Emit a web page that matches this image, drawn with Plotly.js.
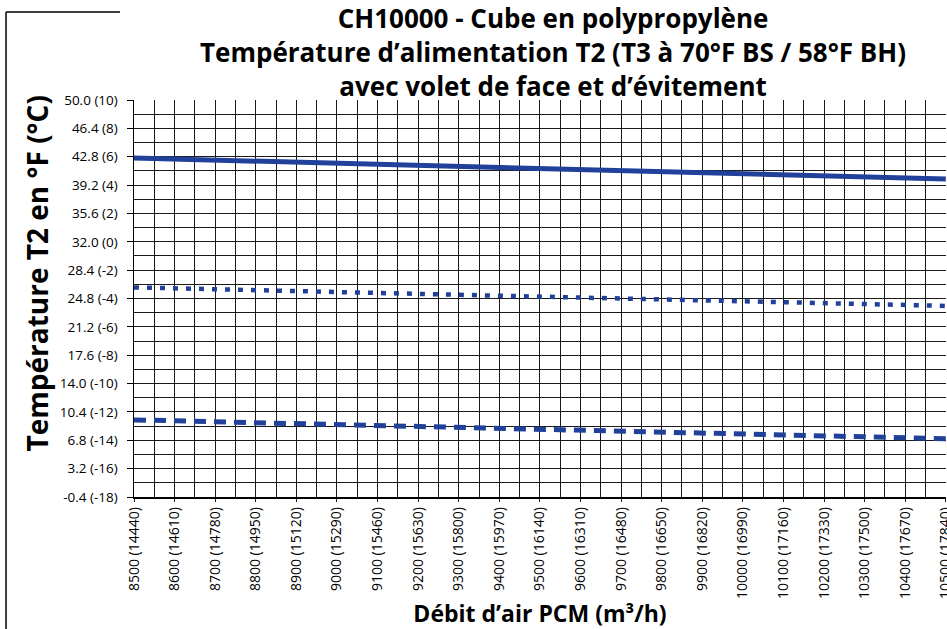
<!DOCTYPE html>
<html>
<head>
<meta charset="utf-8">
<script src="https://cdn.plot.ly/plotly-3.0.1.min.js"></script>
<style>html,body{margin:0;padding:0;background:#fff;}#chart{width:947px;height:629px;}</style>
</head>
<body>
<div id="chart"></div>
<script>
// Airflow (CFM) and matching m³/h labels
const airflowCFM = [8500, 8600, 8700, 8800, 8900, 9000, 9100, 9200, 9300, 9400, 9500,
                    9600, 9700, 9800, 9900, 10000, 10100, 10200, 10300, 10400, 10500];
const airflowM3h = [14440, 14610, 14780, 14950, 15120, 15290, 15460, 15630, 15800, 15970, 16140,
                    16310, 16480, 16650, 16820, 16990, 17160, 17330, 17500, 17670, 17840];

// T2 temperatures (°F)
const seriesSolid  = [42.64, 42.51, 42.37, 42.24, 42.11, 41.97, 41.84, 41.71, 41.57, 41.44, 41.31,
                      41.17, 41.04, 40.90, 40.77, 40.64, 40.50, 40.37, 40.24, 40.10, 39.97];
const seriesDotted = [26.21, 26.09, 25.98, 25.86, 25.74, 25.62, 25.50, 25.39, 25.27, 25.15, 25.04,
                      24.92, 24.80, 24.68, 24.56, 24.45, 24.33, 24.21, 24.09, 23.98, 23.86];
const seriesDashed = [9.39, 9.27, 9.15, 9.03, 8.91, 8.79, 8.67, 8.55, 8.43, 8.31, 8.20,
                      8.08, 7.96, 7.84, 7.72, 7.60, 7.48, 7.36, 7.24, 7.12, 7.00];

// Y tick values (°F) and labels (°F (°C))
const yTickF = [-0.4, 3.2, 6.8, 10.4, 14.0, 17.6, 21.2, 24.8, 28.4, 32.0, 35.6, 39.2, 42.8, 46.4, 50.0];
const yTickC = [-18, -16, -14, -12, -10, -8, -6, -4, -2, 0, 2, 4, 6, 8, 10];

const xTickText = airflowCFM.map((v, i) => v + ' (' + airflowM3h[i] + ')');
const yTickText = yTickF.map((v, i) => v.toFixed(1) + ' (' + yTickC[i] + ')');

const blue = '#21409a';

const traces = [
  {x: airflowCFM, y: seriesSolid, mode: 'lines', line: {color: blue, width: 5}, showlegend: false, hoverinfo: 'skip'},
  {x: airflowCFM, y: seriesDotted, mode: 'lines', line: {color: blue, width: 4.5, dash: '5px,8px'}, showlegend: false, hoverinfo: 'skip'},
  {x: airflowCFM, y: seriesDashed, mode: 'lines', line: {color: blue, width: 5, dash: '12px,8px'}, showlegend: false, hoverinfo: 'skip'}
];

const gridC = '#1a1a1a';

const layout = {
  width: 947, height: 629,
  margin: {l: 134, r: 1, t: 100, b: 132, pad: 0},
  paper_bgcolor: '#ffffff', plot_bgcolor: '#ffffff',
  font: {family: '"Open Sans", sans-serif', color: '#000'},
  showlegend: false,
  title: {
    text: '<b>CH10000 - Cube en polypropylène<br>Température d’alimentation T2 (T3 à 70°F BS / 58°F BH)<br>avec volet de face et d’évitement</b>',
    font: {family: '"Open Sans", sans-serif', size: 26, color: '#000'},
    x: 0.584, xanchor: 'center', xref: 'container',
    y: 0.955, yanchor: 'middle', yref: 'container'
  },
  xaxis: {
    range: [8500, 10500.5],
    tickmode: 'array', tickvals: airflowCFM, ticktext: xTickText,
    tickangle: -90, tickfont: {size: 14, color: '#000'},
    ticklabeloverflow: 'allow',
    ticks: 'outside', ticklen: 3, tickcolor: gridC,
    showgrid: true, gridcolor: gridC, gridwidth: 1,
    minor: {tickmode: 'linear', tick0: 8500, dtick: 50, showgrid: true, gridcolor: gridC, gridwidth: 1, ticks: ''},
    showline: true, linecolor: '#000', linewidth: 1.5,
    zeroline: false, fixedrange: true,
    title: {text: '<b>Débit d’air PCM (m³/h)</b>', font: {size: 23, color: '#000'}, standoff: 10}
  },
  yaxis: {
    range: [-0.4, 50.0],
    tickmode: 'array', tickvals: yTickF, ticktext: yTickText,
    tickfont: {size: 13.5, color: '#000'},
    ticks: 'outside', ticklen: 6, tickcolor: '#000',
    ticklabelstandoff: 6,
    showgrid: true, gridcolor: gridC, gridwidth: 1,
    minor: {tickmode: 'linear', tick0: -0.4, dtick: 1.8, showgrid: true, gridcolor: gridC, gridwidth: 1, ticks: ''},
    showline: true, linecolor: '#000', linewidth: 1.5,
    zeroline: false, fixedrange: true
  },
  annotations: [{
    text: '<b>Température T2 en °F (°C)</b>',
    textangle: -90, xref: 'paper', yref: 'paper',
    x: -0.12, y: 0.562, xanchor: 'center', yanchor: 'middle',
    showarrow: false, font: {size: 28, color: '#000'}
  }],
  shapes: [
    {type: 'line', xref: 'paper', yref: 'paper', x0: -0.1576, x1: -0.1576, y0: 1.2217, y1: -0.34, line: {color: '#000', width: 1.5}},
    {type: 'line', xref: 'paper', yref: 'paper', x0: -0.1576, x1: -0.0172, y0: 1.2217, y1: 1.2217, line: {color: '#000', width: 1.5}}
  ]
};

Plotly.newPlot('chart', traces, layout, {displayModeBar: false, staticPlot: true});
</script>
</body>
</html>
